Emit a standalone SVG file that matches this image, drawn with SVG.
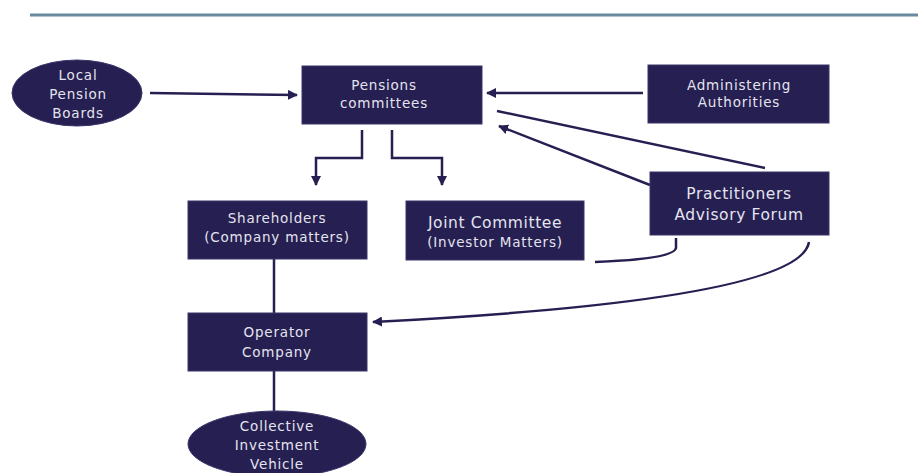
<svg xmlns="http://www.w3.org/2000/svg" width="918" height="473" viewBox="0 0 918 473">
<style>
.n{fill:#261f52;stroke:#3a3468;stroke-width:1}
.t{fill:#e4e4ee;font-family:"DejaVu Sans",Verdana,sans-serif;font-size:13.5px;letter-spacing:0.8px;text-anchor:middle}
.b{font-size:15.5px;letter-spacing:0.6px}
.c{fill:none;stroke:#261f52;stroke-width:2.5}
</style>
<defs>
<marker id="a" viewBox="0 0 10 10" refX="9" refY="5" markerWidth="4" markerHeight="4" orient="auto" markerUnits="strokeWidth">
<path d="M0,0 L10,5 L0,10 z" fill="#261f52"/>
</marker>
</defs>
<rect width="918" height="473" fill="#ffffff"/>
<line x1="30" y1="15" x2="918" y2="15" stroke="#6a8aa0" stroke-width="3"/>
<g id="connectors">
<path class="c" d="M150,93 L297,95" marker-end="url(#a)"/>
<path class="c" d="M643,93 L487,93" marker-end="url(#a)"/>
<path class="c" d="M765,168 L497,111"/>
<path class="c" d="M650,185 L499,126" marker-end="url(#a)"/>
<path class="c" d="M362,130 V158 H316 V185" marker-end="url(#a)"/>
<path class="c" d="M392,130 V158 H442 V185" marker-end="url(#a)"/>
<path class="c" d="M274,259 V313"/>
<path class="c" d="M274,371 V411"/>
<path class="c" d="M676,238 L676,248 Q674,259 595,262"/>
<path class="c" d="M809,242 Q800,300 373,322" marker-end="url(#a)"/>
</g>
<g id="lpb">
<ellipse class="n" cx="77" cy="93" rx="65" ry="33"/>
<text class="t" x="78" y="80">Local</text>
<text class="t" x="78" y="99">Pension</text>
<text class="t" x="78" y="118">Boards</text>
</g>
<g id="pc">
<rect class="n" x="302" y="66" width="180" height="58"/>
<text class="t" x="384" y="90">Pensions</text>
<text class="t" x="384" y="108">committees</text>
</g>
<g id="aa">
<rect class="n" x="648" y="65" width="181" height="58"/>
<text class="t" x="739" y="90">Administering</text>
<text class="t" x="739" y="107">Authorities</text>
</g>
<g id="paf">
<rect class="n" x="650" y="172" width="179" height="63"/>
<text class="t b" x="739" y="199">Practitioners</text>
<text class="t b" x="739" y="220">Advisory Forum</text>
</g>
<g id="sh">
<rect class="n" x="188" y="201" width="179" height="58"/>
<text class="t" x="277" y="223">Shareholders</text>
<text class="t" x="277" y="242">(Company matters)</text>
</g>
<g id="jc">
<rect class="n" x="406" y="201" width="178" height="59"/>
<text class="t b" x="495" y="228">Joint Committee</text>
<text class="t" x="495" y="247">(Investor Matters)</text>
</g>
<g id="oc">
<rect class="n" x="188" y="313" width="179" height="58"/>
<text class="t" x="277" y="337">Operator</text>
<text class="t" x="277" y="357">Company</text>
</g>
<g id="civ">
<ellipse class="n" cx="277" cy="444" rx="89" ry="33"/>
<text class="t" x="277" y="431">Collective</text>
<text class="t" x="277" y="450">Investment</text>
<text class="t" x="277" y="469">Vehicle</text>
</g>
</svg>
